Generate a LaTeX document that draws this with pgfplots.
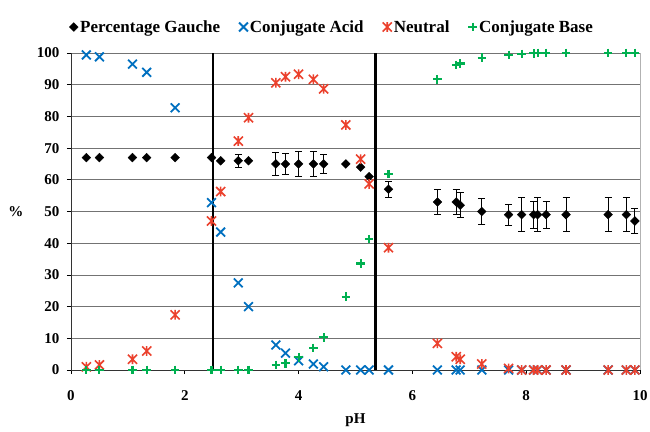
\documentclass[border=0pt]{standalone}
\usepackage{fontspec}
\setmainfont{Liberation Serif}
\usepackage{pgfplots}
\usepackage{pgfplotstable}
\pgfplotsset{compat=1.18}
\definecolor{cblue}{RGB}{0,112,192}
\definecolor{cred}{RGB}{235,65,45}
\definecolor{cgreen}{RGB}{0,176,80}
\pgfdeclareplotmark{xstar}{%
  \pgfpathmoveto{\pgfqpoint{-.7\pgfplotmarksize}{-.7\pgfplotmarksize}}%
  \pgfpathlineto{\pgfqpoint{.7\pgfplotmarksize}{.7\pgfplotmarksize}}%
  \pgfpathmoveto{\pgfqpoint{-.7\pgfplotmarksize}{.7\pgfplotmarksize}}%
  \pgfpathlineto{\pgfqpoint{.7\pgfplotmarksize}{-.7\pgfplotmarksize}}%
  \pgfpathmoveto{\pgfqpoint{0pt}{.75\pgfplotmarksize}}%
  \pgfpathlineto{\pgfqpoint{0pt}{-.75\pgfplotmarksize}}%
  \pgfusepathqstroke}
\pgfplotstableread{
x g ge a n b
0.27 67 0 99.4 1.0 0
0.50 67 0 98.8 1.6 0
1.08 67 0 96.5 3.4 0
1.33 67 0 93.9 6.0 0
1.83 67 0 82.7 17.4 0
2.47 67 0 52.8 47.0 0
2.63 66 0 43.5 56.3 0
2.94 66 2.0 27.5 72.2 0
3.12 66 0 20.0 79.6 0
3.60 65 3.6 7.9 90.6 1.6
3.77 65 3.2 5.3 92.5 2.1
4.00 65 3.8 2.9 93.3 4.0
4.26 65 3.8 1.9 91.7 7.0
4.44 65 2.9 1.0 88.7 10.3
4.83 65 0 0 77.3 23.1
5.09 64 0 0 66.5 33.6
5.24 61 0 0 58.7 41.3
5.58 57 2.6 0 38.6 61.8
6.44 53 3.9 0 8.4 91.7
6.77 53 3.9 0 4.2 96.2
6.84 52 3.9 0 3.4 96.7
7.22 50 4.0 0 1.9 98.5
7.69 49 3.3 0 0.5 99.4
7.92 49 5.3 0 0 99.7
8.13 49 4.2 0 0 99.9
8.20 49 5.3 0 0 100
8.35 49 4.2 0 0 100
8.70 49 5.3 0 0 100
9.44 49 5.3 0 0 100
9.76 49 5.3 0 0 100
9.91 47 4.0 0 0 100
}\data
\pgfplotstableread{
x g ge
2.94 66 2.0
3.60 65 3.6
3.77 65 3.2
4.00 65 3.8
4.26 65 3.8
4.44 65 2.9
5.58 57 2.6
6.44 53 3.9
6.77 53 3.9
6.84 52 3.9
7.22 50 4.0
7.69 49 3.3
7.92 49 5.3
8.13 49 4.2
8.20 49 5.3
8.35 49 4.2
8.70 49 5.3
9.44 49 5.3
9.76 49 5.3
9.91 47 4.0
}\errdata
\begin{document}
\begin{tikzpicture}
\useasboundingbox (-71pt,-61pt) rectangle (579pt,370pt);
\begin{axis}[
  anchor=south west, at={(0,0)},
  scale only axis, width=569pt, height=317pt,
  xmin=0, xmax=10, ymin=0, ymax=100,
  xtick={0,2,...,10}, ytick={0,10,...,100},
  axis lines*=left,
  axis line style={black!80, line width=0.8pt},
  tick align=outside, major tick length=4pt,
  tick style={black, line width=0.8pt},
  ymajorgrids, grid style={black!55, line width=0.8pt},
  /pgf/number format/assume math mode=true,
  tick label style={font=\bfseries\fontsize{15}{17}\selectfont},
  xticklabel style={yshift=-13pt},
  yticklabel style={xshift=-4pt},
  xlabel={pH}, ylabel={\%},
  label style={font=\bfseries\fontsize{15}{17}\selectfont},
  xlabel style={at={(axis description cs:0.5,-0.158)}, anchor=center},
  ylabel style={rotate=-90, at={(axis description cs:-0.097,0.5)}, anchor=center},
  clip=false,
  legend columns=-1,
  legend style={at={(axis description cs:0.459,1.082)}, anchor=center, draw=none,
    font=\bfseries\fontsize{17}{19}\selectfont,
    /tikz/every odd column/.append style={column sep=0pt},
    /tikz/every even column/.append style={column sep=17pt}},
  legend cell align=left,
]
\addplot[black, line width=2.2pt, forget plot] coordinates {(2.5,0) (2.5,100)};
\addplot[black, line width=2.2pt, forget plot] coordinates {(5.35,0) (5.35,100)};
\addplot[only marks, mark=none, forget plot,
  error bars/.cd, y dir=both, y explicit,
  error bar style={black, line width=0.9pt},
  error mark options={rotate=90, mark size=3.5pt, black, line width=0.9pt}]
  table[x=x, y=g, y error=ge] {\errdata};
\addplot[only marks, mark=square*, mark size=3.1pt, black,
  mark options={rotate=45}] table[x=x, y=g] {\data};
\addlegendentry{Percentage Gauche}
\addplot[only marks, mark=x, mark size=6.2pt, cblue, line width=1.8pt] table[x=x, y=a] {\data};
\addlegendentry{Conjugate Acid}
\addplot[only marks, mark=xstar, mark size=6.5pt, cred, line width=1.6pt] table[x=x, y=n] {\data};
\addlegendentry{Neutral}
\addplot[only marks, mark=+, mark size=4.3pt, cgreen, line width=2.1pt] table[x=x, y=b] {\data};
\addlegendentry{Conjugate Base}
\draw[gray!60, line width=0.8pt] (rel axis cs:1,0) -- (rel axis cs:1,1);
\end{axis}
\end{tikzpicture}
\end{document}
